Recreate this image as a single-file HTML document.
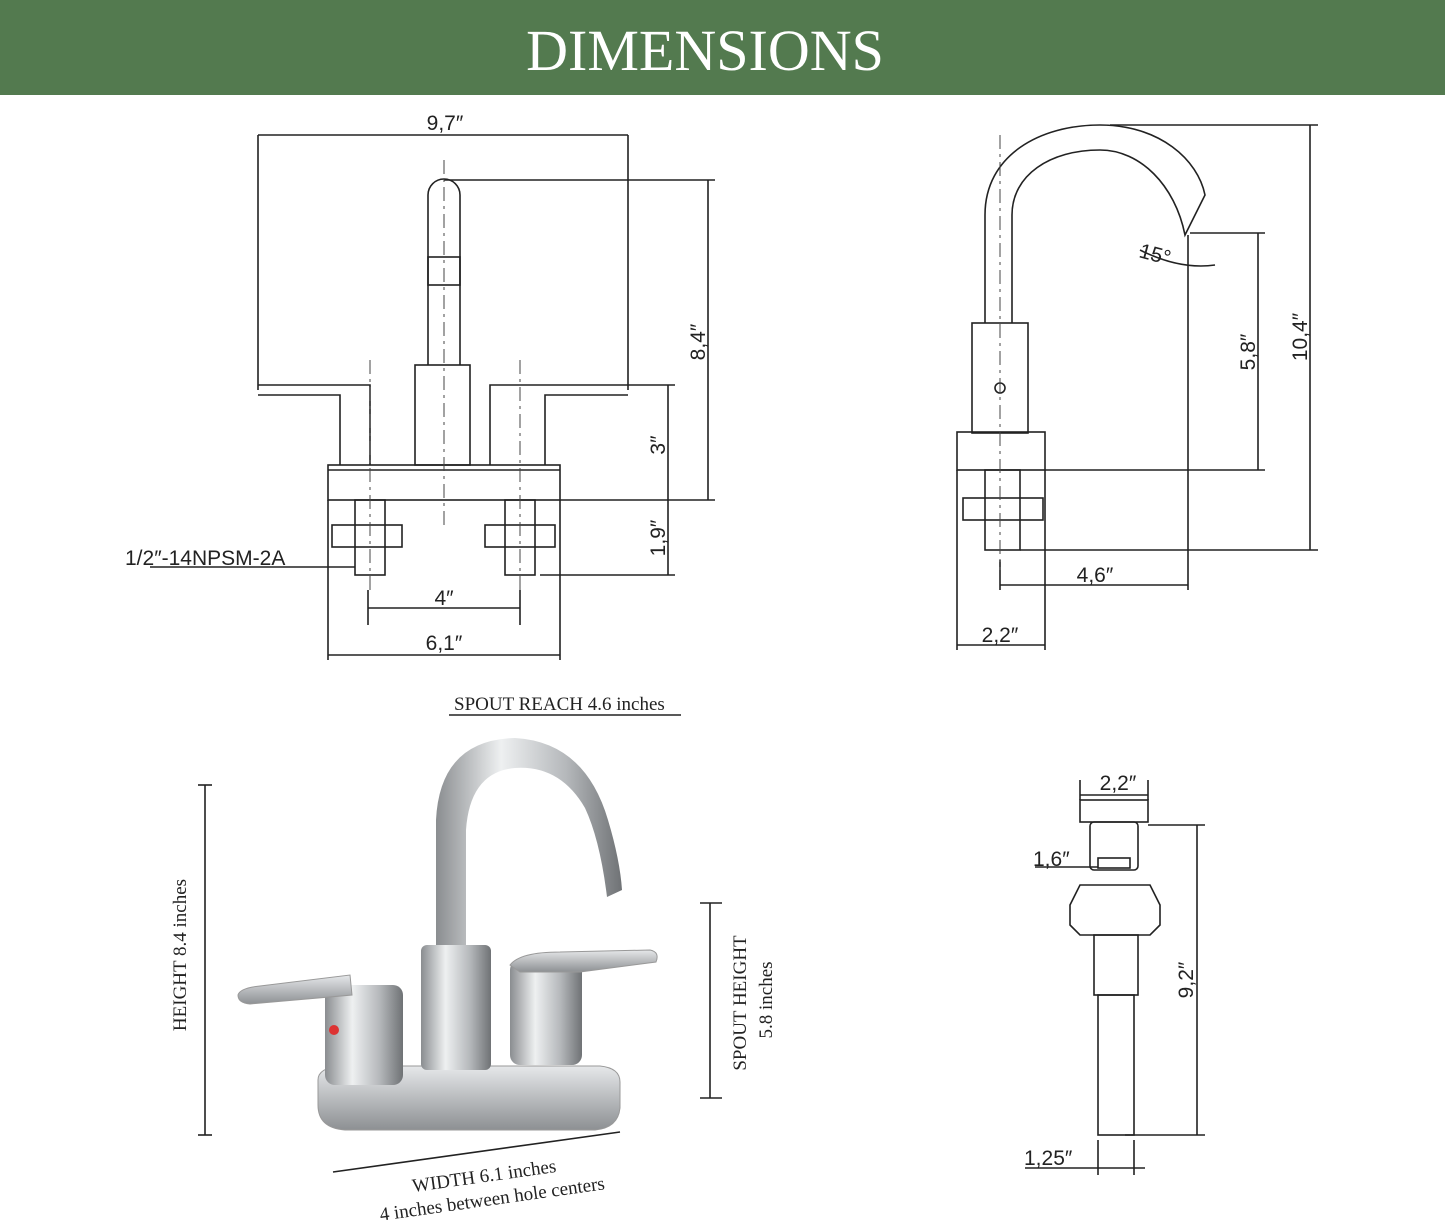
<!DOCTYPE html>
<html><head><meta charset="utf-8"><style>
html,body{margin:0;padding:0;background:#fff}
svg{display:block}
.t{font-family:"Liberation Sans",sans-serif;font-size:21px;fill:#222}
.s{font-family:"Liberation Serif",serif;font-size:19px;fill:#222}
</style></head><body>
<svg width="1445" height="1222" viewBox="0 0 1445 1222" xmlns="http://www.w3.org/2000/svg">
<defs>
<linearGradient id="m" x1="0" x2="1"><stop offset="0" stop-color="#8a8d90"/><stop offset=".35" stop-color="#eef0f1"/><stop offset=".7" stop-color="#b5b8bb"/><stop offset="1" stop-color="#6f7275"/></linearGradient>
<linearGradient id="mv" x1="0" y1="0" x2="0" y2="1"><stop offset="0" stop-color="#e6e8ea"/><stop offset="1" stop-color="#8d9093"/></linearGradient>
</defs>
<rect width="1445" height="95" fill="#537a4f"/>
<text x="705" y="70" text-anchor="middle" font-family="Liberation Serif,serif" font-size="58" fill="#fff">DIMENSIONS</text>

<g stroke="#222" stroke-width="1.6" fill="none">
<line x1="258" y1="135" x2="628" y2="135"/>
<line x1="258" y1="135" x2="258" y2="390"/><line x1="628" y1="135" x2="628" y2="390"/>
<path d="M428 365 V195 A16 16 0 0 1 460 195 V365"/>
<rect x="428" y="257" width="32" height="28"/>
<rect x="415" y="365" width="55" height="100"/>
<path d="M258 385 H370 V465 M258 395 H340 V465"/>
<path d="M628 385 H490 V465 M628 395 H545 V465"/>
<rect x="328" y="465" width="232" height="35"/>
<line x1="328" y1="470" x2="560" y2="470"/>
<rect x="355" y="500" width="30" height="75"/><rect x="332" y="525" width="70" height="22"/>
<rect x="505" y="500" width="30" height="75"/><rect x="485" y="525" width="70" height="22"/>
<line x1="444" y1="180" x2="715" y2="180"/><line x1="708" y1="180" x2="708" y2="500"/>
<line x1="560" y1="500" x2="715" y2="500"/>
<line x1="628" y1="385" x2="675" y2="385"/><line x1="668" y1="385" x2="668" y2="575"/>
<line x1="540" y1="575" x2="675" y2="575"/>
<line x1="368" y1="590" x2="368" y2="625"/><line x1="520" y1="590" x2="520" y2="625"/>
<line x1="368" y1="608" x2="520" y2="608"/>
<line x1="328" y1="500" x2="328" y2="660"/><line x1="560" y1="500" x2="560" y2="660"/>
<line x1="328" y1="655" x2="560" y2="655"/>
<line x1="150" y1="567" x2="355" y2="567"/>
<!-- side view -->
<path d="M985 323 V215 C985 155 1040 125 1100 125 C1160 125 1198 160 1205 195 L1185 235 C1175 185 1140 150 1100 150 C1050 150 1012 175 1012 215 V323"/>
<rect x="972" y="323" width="56" height="110"/>
<circle cx="1000" cy="388" r="5"/>
<rect x="957" y="432" width="88" height="38"/>
<rect x="985" y="470" width="35" height="80"/><rect x="963" y="498" width="80" height="22"/>
<line x1="1110" y1="125" x2="1318" y2="125"/><line x1="1310" y1="125" x2="1310" y2="550"/>
<line x1="1020" y1="550" x2="1318" y2="550"/>
<line x1="1190" y1="233" x2="1265" y2="233"/><line x1="1258" y1="233" x2="1258" y2="470"/>
<line x1="1045" y1="470" x2="1265" y2="470"/>
<line x1="1188" y1="235" x2="1188" y2="590"/>
<line x1="1000" y1="560" x2="1000" y2="590"/><line x1="1000" y1="585" x2="1188" y2="585"/>
<line x1="957" y1="470" x2="957" y2="650"/><line x1="1045" y1="470" x2="1045" y2="650"/>
<line x1="957" y1="645" x2="1045" y2="645"/>
<path d="M1140 250 Q1180 270 1215 265"/>
<!-- drain -->
<line x1="1080" y1="780" x2="1080" y2="800"/><line x1="1148" y1="780" x2="1148" y2="800"/>
<line x1="1080" y1="795" x2="1148" y2="795"/>
<rect x="1080" y="800" width="68" height="22"/>
<line x1="1148" y1="825" x2="1205" y2="825"/><line x1="1197" y1="825" x2="1197" y2="1135"/>
<line x1="1125" y1="1135" x2="1205" y2="1135"/>
<rect x="1090" y="822" width="48" height="48" rx="4"/>
<rect x="1098" y="858" width="32" height="10"/>
<path d="M1080 885 H1150 L1160 905 V925 L1150 935 H1080 L1070 925 V905 Z"/>
<rect x="1094" y="935" width="44" height="60"/>
<rect x="1098" y="995" width="36" height="140"/>
<line x1="1035" y1="867" x2="1098" y2="867"/>
<line x1="1025" y1="1168" x2="1145" y2="1168"/>
<line x1="1098" y1="1140" x2="1098" y2="1175"/><line x1="1134" y1="1140" x2="1134" y2="1175"/>
<line x1="449" y1="715" x2="681" y2="715"/>
<line x1="205" y1="785" x2="205" y2="1135"/>
<line x1="198" y1="785" x2="212" y2="785"/><line x1="198" y1="1135" x2="212" y2="1135"/>
<line x1="710" y1="903" x2="710" y2="1098"/>
<line x1="700" y1="903" x2="722" y2="903"/><line x1="700" y1="1098" x2="722" y2="1098"/>
<line x1="333" y1="1172" x2="620" y2="1132"/>
</g>
<g stroke="#444" stroke-width="1" stroke-dasharray="14 5 3 5">
<line x1="444" y1="160" x2="444" y2="530"/><line x1="370" y1="360" x2="370" y2="590"/><line x1="520" y1="360" x2="520" y2="590"/>
<line x1="1000" y1="135" x2="1000" y2="570"/>
</g>
<text class="t" x="445" y="130" text-anchor="middle">9,7″</text>
<text class="t" x="444" y="605" text-anchor="middle">4″</text>
<text class="t" x="444" y="650" text-anchor="middle">6,1″</text>
<text class="t" x="125" y="565">1/2″-14NPSM-2A</text>
<text class="t" transform="translate(705,342) rotate(-90)" text-anchor="middle">8,4″</text>
<text class="t" transform="translate(665,445) rotate(-90)" text-anchor="middle">3″</text>
<text class="t" transform="translate(665,538) rotate(-90)" text-anchor="middle">1,9″</text>
<text class="t" transform="translate(1307,337) rotate(-90)" text-anchor="middle">10,4″</text>
<text class="t" transform="translate(1255,352) rotate(-90)" text-anchor="middle">5,8″</text>
<text class="t" x="1095" y="582" text-anchor="middle">4,6″</text>
<text class="t" x="1000" y="642" text-anchor="middle">2,2″</text>
<text class="t" transform="translate(1138,257) rotate(15)">15°</text>
<text class="t" x="1118" y="790" text-anchor="middle" font-size="19">2,2″</text>
<text class="t" x="1033" y="866" font-size="19">1,6″</text>
<text class="t" transform="translate(1193,980) rotate(-90)" text-anchor="middle">9,2″</text>
<text class="t" x="1024" y="1165" font-size="19">1,25″</text>
<text class="s" x="454" y="710">SPOUT REACH 4.6 inches</text>
<text class="s" transform="translate(186,955) rotate(-90)" text-anchor="middle">HEIGHT 8.4 inches</text>
<text class="s" transform="translate(746,1003) rotate(-90)" text-anchor="middle">SPOUT HEIGHT</text>
<text class="s" transform="translate(772,1000) rotate(-90)" text-anchor="middle">5.8 inches</text>
<text class="s" transform="translate(485,1182) rotate(-8)" text-anchor="middle">WIDTH 6.1 inches</text>
<text class="s" transform="translate(493,1205) rotate(-8)" text-anchor="middle">4 inches between hole centers</text>
<path d="M318 1080 Q318 1068 340 1066 H600 Q620 1068 620 1082 V1108 Q618 1128 595 1130 H345 Q318 1128 318 1105 Z" fill="url(#mv)" stroke="#999"/>
<path d="M436 950 V820 Q440 740 515 738 Q585 742 608 820 Q620 860 622 890 L607 897 Q600 840 585 808 Q560 765 515 768 Q470 772 466 830 V950 Z" fill="url(#m)"/>
<rect x="421" y="945" width="70" height="125" rx="6" fill="url(#m)"/>
<rect x="325" y="985" width="78" height="100" rx="10" fill="url(#m)"/>
<path d="M238 995 Q240 988 260 986 L350 975 L352 995 L250 1004 Q238 1003 238 995Z" fill="url(#mv)" stroke="#999"/>
<circle cx="334" cy="1030" r="5" fill="#d33"/>
<rect x="510" y="960" width="72" height="105" rx="10" fill="url(#m)"/>
<path d="M510 965 Q520 952 560 952 L650 950 Q660 952 656 962 L580 972 H520 Z" fill="url(#mv)" stroke="#999"/>
</svg>
</body></html>
